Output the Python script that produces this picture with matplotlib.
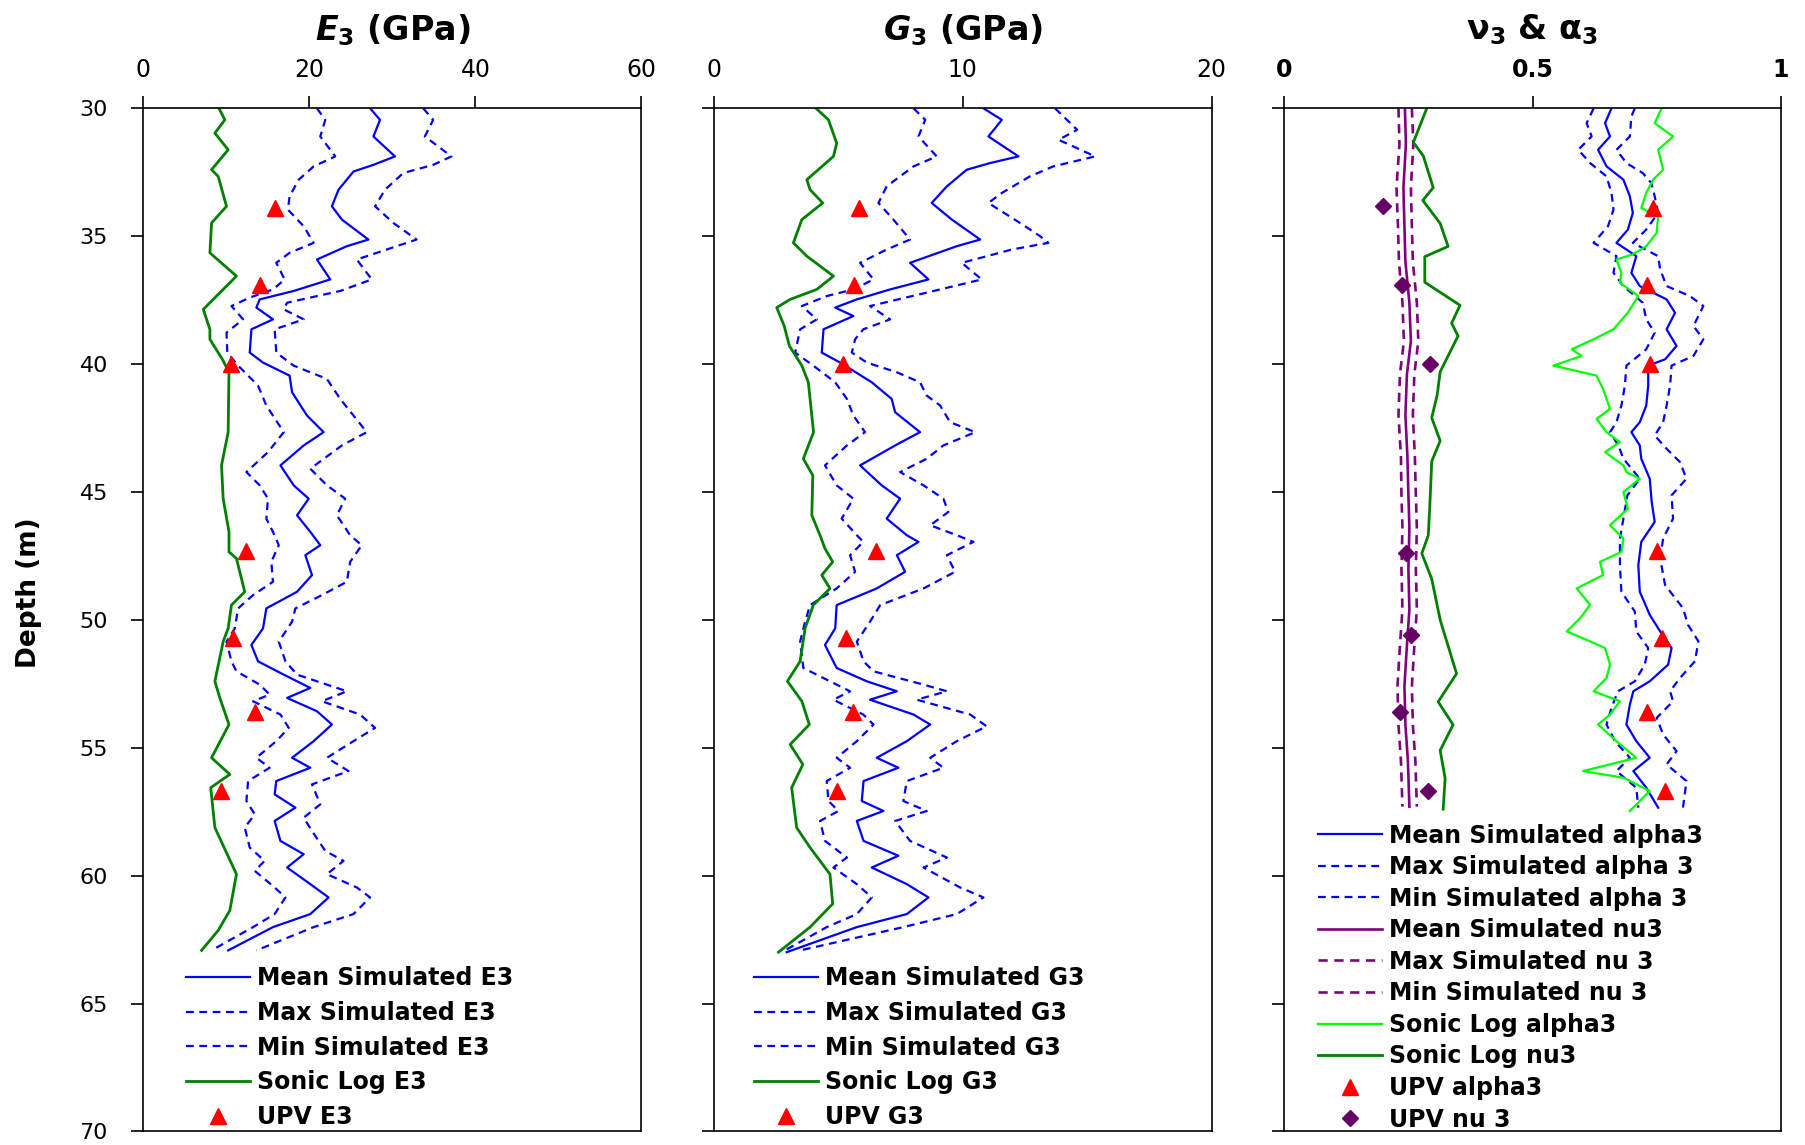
import numpy as np
import matplotlib; matplotlib.use("Agg")
import matplotlib.pyplot as plt

plt.rcParams['font.family'] = ['DejaVu Sans']
plt.rcParams['mathtext.fontset'] = 'custom'
plt.rcParams['mathtext.rm'] = 'DejaVu Sans:bold'
plt.rcParams['mathtext.it'] = 'DejaVu Sans:italic:bold'
plt.rcParams['mathtext.bf'] = 'DejaVu Sans:bold'

# ---- E3 panel (GPa) ----
E_mean_d = [30.0, 30.45, 31.1, 31.88, 32.21, 32.47, 33.18, 33.83, 34.35, 35.13, 35.39, 35.91, 36.69, 37.14, 37.47,
            37.79, 38.25, 38.64, 39.55, 39.94, 40.45, 41.1, 42.01, 42.66, 43.18, 43.96, 44.74, 45.26, 45.91, 46.56,
            47.08, 47.47, 48.25, 48.9, 49.55, 50.33, 50.98, 51.62, 52.14, 52.66, 53.05, 53.57, 54.09, 54.74, 55.39,
            55.78, 56.3, 56.82, 57.34, 57.86, 58.64, 59.16, 59.68, 60.33, 60.85, 61.5, 62.01, 62.92]
E_mean = [27.3, 28.5, 27.7, 30.3, 27.7, 25.3, 23.5, 22.7, 23.9, 27.1, 24.5, 20.9, 22.5, 18.1, 14.0,
          13.6, 15.6, 13.0, 12.8, 14.4, 17.6, 17.9, 19.7, 21.7, 19.3, 16.5, 18.1, 19.9, 18.5, 20.1,
          21.3, 19.5, 20.3, 18.5, 14.8, 14.4, 13.0, 13.8, 16.9, 20.1, 17.3, 20.9, 22.7, 20.5, 17.9,
          20.1, 16.0, 15.8, 18.3, 15.8, 16.5, 19.3, 17.3, 20.1, 22.3, 20.1, 15.6, 10.2]
E_max_d = [30.0, 30.45, 31.1, 31.88, 32.21, 32.53, 33.18, 33.83, 34.48, 35.13, 35.52, 35.91, 36.69, 37.14, 37.6,
           37.86, 38.25, 38.64, 39.55, 40.06, 40.58, 41.36, 42.66, 43.18, 44.09, 44.74, 45.26, 45.91, 46.69,
           47.08, 47.73, 48.51, 49.03, 49.55, 50.07, 50.85, 51.62, 52.14, 52.53, 52.79, 53.18, 53.7, 54.22, 54.74,
           55.39, 55.91, 56.43, 57.21, 57.73, 58.25, 59.03, 59.42, 59.94, 60.46, 60.85, 61.5, 62.01, 62.92]
E_max = [33.7, 34.9, 33.9, 37.1, 34.9, 31.3, 29.1, 27.9, 30.1, 32.9, 29.3, 25.7, 27.5, 23.7, 17.3,
         16.9, 19.3, 15.8, 16.0, 18.1, 22.1, 23.7, 26.9, 23.9, 20.1, 22.1, 24.3, 23.3, 24.9,
         26.3, 24.9, 24.5, 21.5, 18.3, 17.9, 16.3, 17.1, 18.5, 22.1, 24.5, 21.5, 26.1, 27.9, 25.3,
         22.1, 24.7, 20.3, 21.3, 19.3, 20.3, 21.9, 24.1, 22.1, 25.7, 27.3, 25.3, 20.5, 13.6]
E_min_d = [30.0, 30.45, 31.1, 31.88, 32.27, 32.79, 33.44, 33.96, 34.61, 35.26, 35.65, 36.04, 36.69, 37.08, 37.4,
           37.73, 38.25, 38.77, 39.55, 40.06, 40.84, 41.62, 42.66, 43.44, 44.22, 44.74, 45.26, 46.04, 46.56,
           47.08, 47.73, 48.51, 49.03, 49.55, 50.33, 50.85, 51.62, 52.01, 52.53, 52.92, 53.18, 53.7, 54.22, 54.74,
           55.39, 55.78, 56.3, 57.08, 57.6, 58.12, 58.9, 59.42, 59.81, 60.46, 60.85, 61.5, 62.01, 62.92]
E_min = [20.9, 21.9, 21.3, 23.1, 20.5, 18.7, 17.6, 17.4, 19.3, 20.5, 17.6, 16.0, 17.0, 15.6, 12.8,
         10.6, 12.0, 10.0, 10.1, 11.4, 13.8, 14.8, 16.9, 15.0, 12.4, 14.0, 15.0, 14.8, 15.6,
         16.3, 15.4, 15.6, 13.2, 11.4, 11.0, 10.0, 10.6, 11.2, 14.0, 15.2, 13.2, 16.5, 17.5, 16.0,
         13.6, 15.2, 12.6, 12.4, 13.4, 12.2, 12.8, 14.6, 13.4, 15.8, 17.1, 15.8, 13.2, 8.2]
E_sonic_d = [30.0, 30.45, 30.97, 31.62, 32.4, 32.66, 33.83, 34.48, 35.65, 36.56, 37.21, 37.86, 38.64, 39.03, 39.81,
             40.32, 42.66, 43.96, 45.26, 46.56, 47.34, 47.6, 48.9, 49.42, 50.33, 50.85, 52.4, 53.05, 54.09, 55.39,
             56.04, 56.56, 58.12, 59.94, 61.36, 62.14, 62.92]
E_sonic = [9.1, 9.8, 8.6, 10.2, 8.2, 9.0, 10.0, 8.2, 8.0, 11.2, 9.2, 7.2, 8.0, 8.0, 9.5,
           10.3, 10.2, 9.4, 9.6, 10.3, 10.3, 11.2, 12.2, 10.6, 10.2, 9.6, 8.6, 9.2, 10.3, 8.2,
           10.4, 8.1, 8.6, 11.2, 10.4, 9.0, 7.0]

# ---- UPV lab points ----
upv_d = [33.9, 36.9, 40.0, 47.3, 50.7, 53.6, 56.7]
E_upv = [15.8, 14.0, 10.5, 12.3, 10.8, 13.4, 9.3]
G_upv = [5.84, 5.64, 5.17, 6.51, 5.31, 5.60, 4.93]
a_upv = [0.743, 0.731, 0.736, 0.750, 0.760, 0.731, 0.767]
nu_upv_d = [33.8, 36.9, 40.0, 47.4, 50.6, 53.6, 56.7]
nu_upv = [0.199, 0.238, 0.293, 0.245, 0.256, 0.233, 0.289]

# ---- G3 panel (GPa) ----
G_mean_d = [30.0, 30.45, 31.1, 31.88, 32.14, 32.4, 33.05, 33.7, 34.35, 35.13, 35.39, 36.04, 36.69, 37.08, 37.47,
            37.79, 38.12, 38.64, 39.55, 39.94, 40.71, 41.36, 41.88, 42.66, 43.18, 43.96, 44.74, 45.26, 46.04, 46.69,
            46.95, 47.47, 48.12, 48.77, 49.42, 50.33, 50.98, 51.88, 52.4, 52.79, 53.12, 53.7, 54.09, 54.74, 55.39,
            55.78, 56.3, 57.08, 57.47, 57.86, 58.64, 59.22, 59.68, 60.33, 60.85, 61.5, 62.01, 62.99]
G_mean = [10.83, 11.57, 11.03, 12.24, 11.1, 10.16, 9.36, 8.75, 9.56, 10.7, 9.76, 7.88, 8.62, 7.08, 5.74,
          4.87, 5.6, 4.4, 4.33, 5.07, 6.34, 7.14, 7.28, 8.28, 7.28, 5.87, 6.74, 7.48, 6.94, 7.75,
          8.22, 7.35, 7.68, 6.54, 4.93, 4.87, 4.46, 4.93, 6.14, 7.35, 6.27, 8.02, 8.69, 7.75, 6.54,
          7.41, 6.01, 5.94, 6.81, 5.74, 6.01, 7.41, 6.34, 7.75, 8.62, 7.75, 5.74, 2.92]
G_min_d = [30.0, 30.45, 31.1, 31.88, 32.27, 32.66, 33.05, 33.7, 34.35, 35.13, 35.52, 36.04, 36.69, 37.08, 37.34,
           37.73, 38.25, 38.64, 39.55, 40.06, 40.71, 41.36, 42.01, 42.66, 43.18, 43.96, 44.74, 45.26, 46.04, 46.69,
           46.95, 47.47, 48.12, 48.77, 49.42, 50.07, 50.85, 51.88, 52.4, 52.79, 53.12, 53.7, 54.09, 54.74, 55.39,
           55.78, 56.3, 57.08, 57.47, 57.86, 58.64, 59.29, 59.68, 60.33, 60.85, 61.5, 62.01, 62.99]
G_min = [8.02, 8.49, 8.22, 8.95, 8.02, 7.48, 6.94, 6.61, 7.21, 7.88, 6.94, 5.87, 6.41, 5.6, 4.53,
         3.53, 4.13, 3.46, 3.26, 3.99, 4.87, 5.34, 5.6, 6.07, 5.34, 4.46, 4.93, 5.6, 5.13, 5.74,
         6.0, 5.47, 5.67, 4.93, 3.86, 3.66, 3.46, 3.59, 4.66, 5.47, 4.8, 6.0, 6.41, 5.74, 4.93,
         5.47, 4.53, 4.6, 5.0, 4.26, 4.46, 5.34, 4.8, 5.74, 6.34, 5.74, 4.53, 2.72]
G_max_d = [30.0, 30.32, 30.84, 31.23, 31.88, 32.27, 32.66, 33.31, 33.7, 34.48, 35.0, 35.26, 35.52, 35.78, 36.04,
           36.69, 37.08, 37.73, 38.25, 38.64, 39.03, 39.55, 39.94, 40.32, 40.71, 41.23, 41.62, 42.27, 42.66, 43.18,
           43.7, 44.22, 44.74, 45.26, 45.78, 46.3, 46.69, 46.95, 47.47, 48.12, 48.77, 49.42, 50.07, 50.85, 51.62,
           52.01, 52.53, 52.79, 53.12, 53.7, 54.16, 54.74, 55.39, 55.78, 56.3, 57.08, 57.47, 57.86, 58.64, 59.29,
           59.68, 60.46, 60.85, 61.5, 62.01, 62.92]
G_max = [13.71, 14.05, 14.6, 13.85, 15.32, 13.64, 12.7, 11.57, 11.03, 12.3, 13.11, 13.44, 11.97, 10.97, 9.96,
         10.76, 9.09, 6.27, 7.08, 6.0, 5.67, 5.54, 6.14, 7.35, 8.28, 8.55, 9.09, 9.49, 10.5, 9.22,
         8.55, 7.48, 8.42, 9.22, 9.42, 8.69, 9.76, 10.43, 9.36, 9.69, 8.42, 6.68, 6.27, 5.74, 6.01,
         6.41, 8.42, 9.36, 8.15, 10.3, 10.96, 9.76, 8.69, 9.22, 7.75, 7.61, 8.55, 7.28, 7.88, 9.36,
         8.42, 9.89, 10.83, 9.76, 7.61, 3.46]
G_sonic_d = [30.0, 30.45, 31.36, 31.88, 32.79, 33.18, 33.7, 34.35, 35.26, 35.78, 36.56, 37.08, 37.47, 37.79, 38.51,
             39.29, 40.06, 40.71, 42.01, 42.66, 43.7, 44.35, 45.91, 46.69, 47.21, 47.73, 48.25, 48.77, 49.42, 50.33,
             51.62, 52.4, 53.18, 54.09, 54.87, 55.65, 56.56, 58.12, 58.9, 59.94, 61.1, 62.01, 62.99]
G_sonic = [4.1, 4.6, 4.93, 4.8, 3.73, 3.86, 4.37, 3.53, 3.19, 3.73, 4.8, 4.13, 3.06, 2.52, 2.82,
           3.03, 3.53, 3.79, 3.93, 4.0, 3.59, 3.97, 3.93, 4.26, 4.46, 4.77, 4.33, 4.66, 3.99, 3.66,
           3.46, 2.95, 3.53, 3.83, 3.06, 3.57, 3.12, 3.32, 3.86, 4.66, 4.77, 3.86, 2.59]

# ---- nu3 & alpha3 panel ----
a_mean_d = [30.0, 30.58, 31.1, 31.62, 32.27, 32.79, 33.44, 34.09, 34.74, 35.26, 35.78, 36.43, 36.95, 37.47, 37.99,
            38.64, 39.29, 39.81, 40.06, 40.84, 41.62, 42.27, 42.66, 43.18, 43.7, 44.48, 45.39, 46.17, 46.95, 47.86,
            48.9, 49.8, 50.45, 51.1, 51.75, 52.4, 52.79, 53.31, 54.09, 54.74, 55.39, 55.91, 56.56, 57.34]
a_mean = [0.659, 0.646, 0.656, 0.632, 0.649, 0.683, 0.696, 0.702, 0.692, 0.669, 0.709, 0.699, 0.716, 0.77, 0.787,
          0.77, 0.79, 0.767, 0.733, 0.733, 0.729, 0.716, 0.699, 0.716, 0.719, 0.736, 0.74, 0.746, 0.719, 0.713,
          0.716, 0.736, 0.757, 0.78, 0.773, 0.736, 0.703, 0.696, 0.689, 0.709, 0.736, 0.703, 0.729, 0.753]
a_max_d = [30.0, 30.32, 31.1, 31.62, 32.14, 32.53, 32.92, 33.44, 34.09, 34.74, 35.26, 35.78, 36.3, 36.95, 37.34,
           37.73, 38.51, 39.03, 39.68, 40.06, 40.84, 41.62, 42.27, 42.79, 43.31, 43.83, 44.48, 45.13, 46.04, 46.82,
           47.6, 48.64, 49.54, 50.19, 50.84, 51.62, 52.27, 52.79, 53.18, 53.83, 54.48, 55.13, 55.65, 56.3, 57.34]
a_max = [0.706, 0.699, 0.696, 0.669, 0.689, 0.722, 0.739, 0.746, 0.753, 0.729, 0.702, 0.753, 0.757, 0.77, 0.817,
         0.844, 0.824, 0.844, 0.824, 0.78, 0.777, 0.77, 0.763, 0.746, 0.77, 0.797, 0.81, 0.78, 0.783, 0.763,
         0.757, 0.767, 0.803, 0.813, 0.834, 0.827, 0.797, 0.777, 0.783, 0.75, 0.763, 0.79, 0.77, 0.81, 0.803]
a_min_d = [30.0, 30.58, 31.1, 31.62, 32.14, 32.66, 33.31, 33.96, 34.61, 35.26, 35.78, 36.43, 36.95, 37.6, 38.25,
           38.77, 39.42, 40.06, 40.84, 41.62, 42.27, 42.66, 43.18, 43.7, 44.48, 45.13, 46.04, 46.82, 47.86, 48.9,
           49.67, 50.45, 51.1, 51.75, 52.4, 52.79, 53.44, 54.09, 54.74, 55.39, 55.91, 56.56, 57.34]
a_min = [0.623, 0.609, 0.619, 0.592, 0.616, 0.649, 0.659, 0.663, 0.652, 0.623, 0.669, 0.663, 0.683, 0.722, 0.729,
         0.746, 0.729, 0.689, 0.686, 0.679, 0.669, 0.656, 0.673, 0.683, 0.716, 0.691, 0.683, 0.676, 0.676, 0.679,
         0.706, 0.709, 0.733, 0.726, 0.706, 0.672, 0.659, 0.649, 0.666, 0.696, 0.669, 0.709, 0.713]
a_sonic_d = [30.0, 30.58, 31.1, 31.62, 32.4, 32.79, 33.31, 33.9, 34.22, 34.87, 35.39, 35.71, 35.91, 36.43, 36.82,
             37.34, 37.99, 38.64, 39.03, 39.42, 39.68, 40.06, 40.45, 40.97, 41.75, 42.14, 42.66, 43.05, 43.44, 43.96,
             44.22, 44.48, 45.0, 45.65, 46.3, 46.82, 47.34, 47.73, 48.25, 48.77, 49.41, 49.93, 50.45, 50.84, 51.1,
             51.75, 52.27, 52.79, 53.18, 53.7, 54.09, 54.74, 55.39, 55.91, 56.17, 56.69, 57.47]
a_sonic = [0.76, 0.746, 0.783, 0.753, 0.763, 0.743, 0.729, 0.719, 0.753, 0.75, 0.729, 0.702, 0.669, 0.679, 0.676,
           0.713, 0.692, 0.663, 0.623, 0.579, 0.599, 0.542, 0.629, 0.642, 0.656, 0.629, 0.649, 0.676, 0.646, 0.683,
           0.689, 0.716, 0.683, 0.692, 0.656, 0.683, 0.679, 0.636, 0.642, 0.589, 0.616, 0.596, 0.569, 0.616, 0.646,
           0.656, 0.649, 0.623, 0.676, 0.656, 0.632, 0.669, 0.709, 0.602, 0.683, 0.736, 0.696]
nu_d = [30.0, 31.4, 33.1, 34.6, 36.0, 37.6, 39.1, 40.4, 42.0, 43.6, 45.1, 46.4, 48.0, 49.6, 51.0, 52.6, 54.1, 55.5, 57.3]
nu_mean = [0.243, 0.245, 0.240, 0.242, 0.244, 0.252, 0.255, 0.247, 0.244, 0.248, 0.250, 0.252, 0.250, 0.252,
           0.247, 0.242, 0.244, 0.249, 0.252]
nu_min = [0.230, 0.232, 0.226, 0.229, 0.231, 0.238, 0.241, 0.233, 0.230, 0.235, 0.236, 0.238, 0.236, 0.238,
          0.233, 0.228, 0.230, 0.235, 0.238]
nu_max = [0.257, 0.260, 0.255, 0.257, 0.259, 0.267, 0.270, 0.262, 0.259, 0.263, 0.265, 0.267, 0.265, 0.267,
          0.262, 0.257, 0.259, 0.264, 0.267]
nu_sonic_d = [30.0, 31.33, 31.86, 33.1, 33.6, 34.5, 35.4, 35.8, 36.8, 37.7, 38.4, 38.9, 40.3, 41.2, 42.1, 43.0,
              43.8, 45.6, 46.7, 47.4, 48.4, 50.0, 52.1, 53.2, 54.1, 55.1, 56.2, 57.4]
nu_sonic = [0.287, 0.26, 0.28, 0.3, 0.279, 0.314, 0.33, 0.283, 0.283, 0.354, 0.337, 0.35, 0.314, 0.308, 0.297,
            0.314, 0.297, 0.293, 0.29, 0.277, 0.297, 0.314, 0.347, 0.31, 0.34, 0.314, 0.324, 0.32]

BLUE, DKGREEN, LIME, RED, PURPLE, PLUM = "#0000ff", "#008000", "#00ff00", "#ff0000", "#800080", "#660066"
DASH = (0, (3.5, 2.5))
TICK_FS, TITLE_FS, LEG_FS = 16, 24, 17

fig = plt.figure(figsize=(18.05, 11.45), dpi=100)
bottom, height = 0.0118, 0.8936
ax1 = fig.add_axes([0.0795, bottom, 0.2759, height])
ax2 = fig.add_axes([0.3956, bottom, 0.2756, height])
ax3 = fig.add_axes([0.7115, bottom, 0.2751, height])


def frame(ax, xlim, xticks, xlabels, title, bold=False, ylab=False):
    ax.set_xlim(*xlim); ax.set_ylim(70, 30)
    ax.xaxis.tick_top()
    ax.set_xticks(xticks)
    ax.set_xticklabels(xlabels, fontsize=TICK_FS + 1, fontweight="bold" if bold else "normal")
    ax.set_yticks(np.arange(30, 71, 5))
    ax.tick_params(axis="x", direction="out", length=8.6, width=1.2, pad=10)
    ax.tick_params(axis="y", direction="out", length=8.6, width=1.2, pad=17, labelsize=TICK_FS, labelleft=ylab)
    for s in ax.spines.values():
        s.set_linewidth(1.2)
    ax.text(0.5, 1.0766, title, transform=ax.transAxes, ha="center", va="center",
            fontsize=TITLE_FS, fontweight="bold")


def leg(ax, x, y, spacing):
    ax.legend(loc="upper left", bbox_to_anchor=(x, y), frameon=False, borderpad=0, borderaxespad=0,
              prop=dict(size=LEG_FS, weight="bold"), labelspacing=spacing, handlelength=2.7,
              handletextpad=0.3, numpoints=1)


# panel 1
ax1.plot(E_mean, E_mean_d, color=BLUE, lw=1.6, label="Mean Simulated E3")
ax1.plot(E_max, E_max_d, color=BLUE, lw=1.6, ls=DASH, label="Max Simulated E3")
ax1.plot(E_min, E_min_d, color=BLUE, lw=1.6, ls=DASH, label="Min Simulated E3")
ax1.plot(E_sonic, E_sonic_d, color=DKGREEN, lw=2.0, label="Sonic Log E3")
ax1.plot(E_upv, upv_d, ls="none", marker="^", ms=11, color=RED, zorder=5, label="UPV E3")
frame(ax1, (0, 60), [0, 20, 40, 60], ["0", "20", "40", "60"], r"$E_{3}$ (GPa)", ylab=True)
leg(ax1, 0.085, 0.1615, 0.453)

# panel 2
ax2.plot(G_mean, G_mean_d, color=BLUE, lw=1.6, label="Mean Simulated G3")
ax2.plot(G_max, G_max_d, color=BLUE, lw=1.6, ls=DASH, label="Max Simulated G3")
ax2.plot(G_min, G_min_d, color=BLUE, lw=1.6, ls=DASH, label="Min Simulated G3")
ax2.plot(G_sonic, G_sonic_d, color=DKGREEN, lw=2.0, label="Sonic Log G3")
ax2.plot(G_upv, upv_d, ls="none", marker="^", ms=11, color=RED, zorder=5, label="UPV G3")
frame(ax2, (0, 20), [0, 10, 20], ["0", "10", "20"], r"$G_{3}$ (GPa)")
leg(ax2, 0.080, 0.1615, 0.453)

# panel 3
ax3.plot(a_mean, a_mean_d, color=BLUE, lw=1.6, label="Mean Simulated alpha3")
ax3.plot(a_max, a_max_d, color=BLUE, lw=1.6, ls=DASH, label="Max Simulated alpha 3")
ax3.plot(a_min, a_min_d, color=BLUE, lw=1.6, ls=DASH, label="Min Simulated alpha 3")
ax3.plot(nu_mean, nu_d, color=PURPLE, lw=1.9, label="Mean Simulated nu3")
ax3.plot(nu_max, nu_d, color=PURPLE, lw=1.9, ls=DASH, label="Max Simulated nu 3")
ax3.plot(nu_min, nu_d, color=PURPLE, lw=1.9, ls=DASH, label="Min Simulated nu 3")
ax3.plot(a_sonic, a_sonic_d, color=LIME, lw=1.6, label="Sonic Log alpha3")
ax3.plot(nu_sonic, nu_sonic_d, color=DKGREEN, lw=2.0, label="Sonic Log nu3")
ax3.plot(a_upv, upv_d, ls="none", marker="^", ms=11, color=RED, zorder=5, label="UPV alpha3")
ax3.plot(nu_upv, nu_upv_d, ls="none", marker="D", ms=8, color=PLUM, zorder=5, label="UPV nu 3")
frame(ax3, (0, 1), [0, 0.5, 1], ["0", "0.5", "1"], r"$\mathrm{\nu}_{3}$ & $\mathrm{\alpha}_{3}$", bold=True)
leg(ax3, 0.068, 0.301, 0.32)

fig.text(29 / 1805, 1 - 593 / 1145, "Depth (m)", rotation=90, ha="center", va="center",
         fontsize=19, fontweight="bold")

fig.savefig("out.png", dpi=100)
